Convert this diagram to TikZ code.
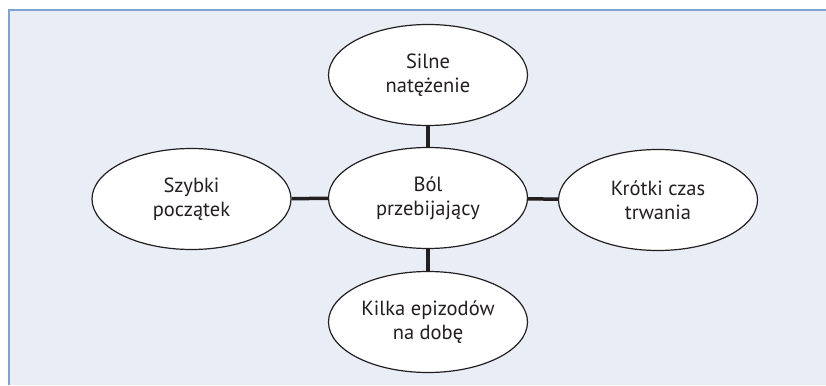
\documentclass[tikz,border=0pt]{standalone}
\usepackage{fontspec}
\setmainfont{PT Sans}
\usepackage{tikz}
\usetikzlibrary{shapes.geometric}
\definecolor{panelblue}{HTML}{E8EDF6}
\definecolor{rimblue}{HTML}{7FA3D1}
\definecolor{inkdark}{HTML}{231F20}
\tikzset{
  cause/.style={ellipse, draw=inkdark, line width=1.2pt, fill=white,
    minimum width=199pt, minimum height=101pt, inner sep=0pt,
    align=center, font=\fontsize{20.5}{24}\selectfont, text=inkdark},
  link/.style={draw=inkdark, line width=3.5pt}
}

\begin{document}
\begin{tikzpicture}[x=1pt,y=1pt]
\useasboundingbox (0,0) rectangle (826,385);
\fill[panelblue] (8.5,0) rectangle (826,374.5);
\draw[rimblue, line width=2pt] (8.5,0) -- (8.5,374.5) -- (826,374.5);

\node[cause] (bol) at (428,187) {Ból\\przebijający};
\node[cause] (silne) at (428,310) {Silne\\natężenie};
\node[cause] (szybki) at (191.5,186) {Szybki\\początek};
\node[cause] (krotki) at (658,185) {Krótki czas\\trwania};
\node[cause] (kilka) at (428,63) {Kilka epizodów\\na dobę};

\draw[link] (bol) -- (silne);
\draw[link] (bol) -- (szybki);
\draw[link] (bol) -- (krotki);
\draw[link] (bol) -- (kilka);
\end{tikzpicture}
\end{document}
